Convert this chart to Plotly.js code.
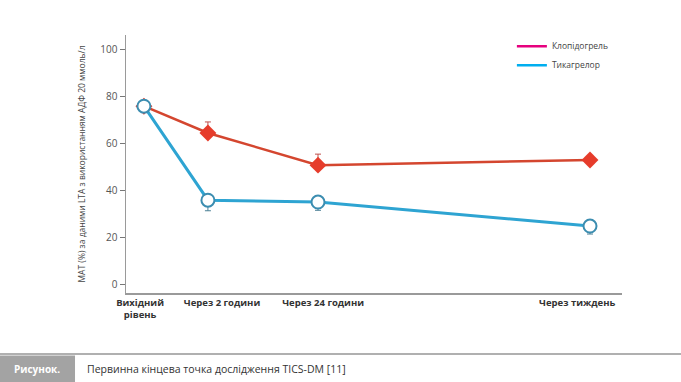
<!DOCTYPE html>
<html>
<head>
<meta charset="utf-8">
<script src="https://cdn.plot.ly/plotly-3.0.1.min.js"></script>
<style>html,body{margin:0;padding:0;background:#fff;}#chart{width:681px;height:382px;}</style>
</head>
<body>
<div id="chart"></div>
<script>
// Data
const timePoints = ["Вихідний<br>рівень", "Через 2 години", "Через 24 години", "Через тиждень"];
const xPositions = [0, 1, 2.72, 6.97];
const labelPositions = [-0.06, 1.22, 2.8, 6.77];
const seriesNames = ["Клопідогрель", "Тикагрелор"];
const clopidogrel = [75.7, 64.3, 50.6, 52.8];
const clopidogrelErrPlus = [0, 4.7, 4.7, 0];
const ticagrelor = [75.7, 35.7, 34.9, 24.7];
const ticagrelorErrMinus = [0, 4.5, 3.5, 3.4];
const yTicks = [0, 20, 40, 60, 80, 100];

const FONT = "Open Sans, Noto Sans, sans-serif";

const traces = [
  {
    x: xPositions, y: clopidogrel, name: seriesNames[0], type: "scatter", mode: "lines+markers",
    showlegend: false,
    line: {color: "#d4462f", width: 2.5},
    marker: {symbol: "diamond", size: 13, color: "#e63c2b"},
    error_y: {type: "data", symmetric: false, array: clopidogrelErrPlus, arrayminus: [0,0,0,0], color: "#c0504d", thickness: 1, width: 3}
  },
  {
    x: xPositions, y: ticagrelor, name: seriesNames[1], type: "scatter", mode: "lines+markers",
    showlegend: false,
    line: {color: "#2ea4d2", width: 3},
    marker: {symbol: "circle", size: 13, color: "#ffffff", line: {color: "#3c8db0", width: 2}},
    error_y: {type: "data", symmetric: false, array: [0,0,0,0], arrayminus: ticagrelorErrMinus, color: "#4a7f95", thickness: 1, width: 3}
  },
  {x: [null], y: [null], name: seriesNames[0], type: "scatter", mode: "lines", line: {color: "#e6007e", width: 2.5}},
  {x: [null], y: [null], name: seriesNames[1], type: "scatter", mode: "lines", line: {color: "#00aeef", width: 2.5}}
];

const layout = {
  width: 681, height: 382,
  margin: {l: 126, r: 59, t: 35, b: 89},
  paper_bgcolor: "#ffffff", plot_bgcolor: "#ffffff",
  font: {family: FONT, color: "#444"},
  showlegend: true,
  legend: {x: 0.778, y: 1.013, xanchor: "left", yanchor: "top", font: {size: 8.5, color: "#444", family: FONT},
           bgcolor: "rgba(0,0,0,0)", tracegroupgap: 0},
  xaxis: {
    range: [-0.28, 7.47], showgrid: false, zeroline: false,
    showline: true, linecolor: "#9a9a9a", linewidth: 1.5,
    tickmode: "array", tickvals: labelPositions, ticktext: timePoints.map(t => "<b>" + t + "</b>"),
    ticks: "", tickfont: {size: 9.5, color: "#333", family: FONT}
  },
  yaxis: {
    range: [-3.8, 106], showgrid: false, zeroline: false,
    showline: true, linecolor: "#9a9a9a", linewidth: 1.5,
    tickmode: "array", tickvals: yTicks, ticks: "outside", ticklen: 5, tickcolor: "#777", tickwidth: 1,
    tickfont: {size: 10, color: "#555", family: FONT},
    title: {text: "МАТ (%) за даними LTA з використанням АДФ 20 ммоль/л", font: {size: 8.5, color: "#444", family: FONT}, standoff: 13}
  },
  shapes: [
    {type: "line", xref: "paper", yref: "paper", x0: -0.3, x1: 1.2, y0: -0.236, y1: -0.236, line: {color: "#b0b0b0", width: 2}},
    {type: "rect", xref: "paper", yref: "paper", x0: -0.3, x1: -0.1028, y0: -0.2426, y1: -0.36, fillcolor: "#a3a3a3", line: {width: 0}}
  ],
  annotations: [
    {xref: "paper", yref: "paper", x: -0.2298, y: -0.293, xanchor: "left", yanchor: "middle", showarrow: false,
     text: "<b>Рисунок.</b>", font: {size: 10, color: "#ffffff", family: FONT}},
    {xref: "paper", yref: "paper", x: -0.0827, y: -0.293, xanchor: "left", yanchor: "middle", showarrow: false,
     text: "Первинна кінцева точка дослідження TICS-DM [11]", font: {size: 10.5, color: "#333", family: FONT}}
  ]
};

Plotly.newPlot("chart", traces, layout, {displayModeBar: false, staticPlot: true});
</script>
</body>
</html>
